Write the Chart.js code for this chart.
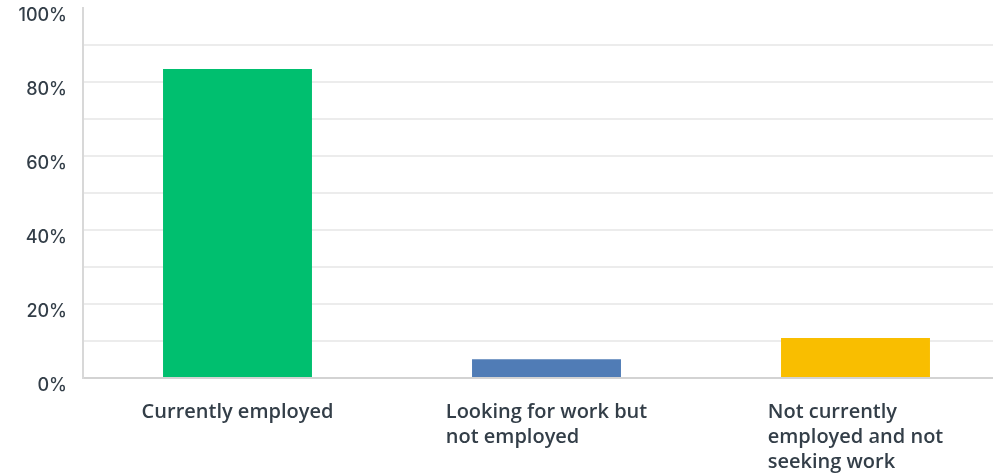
<!DOCTYPE html>
<html>
<head>
<meta charset="utf-8">
<script src="https://cdn.jsdelivr.net/npm/chart.js@4"></script>
<style>
    html, body { margin: 0; padding: 0; background: #fff; overflow: hidden; }
    #wrap { width: 1010px; height: 476px; position: relative; }
</style>
</head>
<body>
<div id="wrap"><canvas id="employmentChart"></canvas></div>
<script>
const categories = [
    ["Currently employed"],
    ["Looking for work but", "not employed"],
    ["Not currently", "employed and not", "seeking work"]
];
const percentages = [83.5, 5.1, 10.8];
const barColors = ["#00bf6f", "#507cb6", "#f9be00"];
const yTicks = [0, 20, 40, 60, 80, 100];

const TEXT_COLOR = "#333e48";

// x labels are drawn left-aligned per block, like the original
const blockLabels = {
    id: "blockLabels",
    afterDraw(chart) {
        const ctx = chart.ctx;
        const xScale = chart.scales.x;
        ctx.save();
        ctx.font = "600 20px 'Open Sans'";
        ctx.fillStyle = TEXT_COLOR;
        ctx.textAlign = "left";
        ctx.textBaseline = "middle";
        categories.forEach((lines, index) => {
            const center = xScale.getPixelForValue(index);
            const widest = Math.max(...lines.map(line => ctx.measureText(line).width));
            const left = center - widest / 2;
            lines.forEach((line, i) => {
                ctx.fillText(line, left, xScale.bottom + 34 + i * 25);
            });
        });
        ctx.restore();
    }
};

new Chart(document.getElementById("employmentChart"), {
    type: "bar",
    data: {
        labels: categories.map(lines => lines.join(" ")),
        datasets: [{
            data: percentages,
            backgroundColor: barColors,
            borderWidth: 0,
            barPercentage: 0.482,
            categoryPercentage: 1
        }]
    },
    options: {
        responsive: true,
        maintainAspectRatio: false,
        animation: false,
        layout: { padding: { top: 8, right: 0, bottom: 98, left: 0 } },
        plugins: {
            legend: { display: false },
            tooltip: { enabled: false }
        },
        scales: {
            x: {
                grid: { display: false, drawTicks: false },
                border: { color: "#d3d3d3", width: 2 },
                ticks: { display: false }
            },
            y: {
                min: 0,
                max: 100,
                afterFit(scale) {
                    scale.width = 83;
                    scale.paddingTop = 0;
                    scale.paddingBottom = 0;
                },
                grid: {
                    drawTicks: false,
                    color: ctx => (ctx.tick && ctx.tick.value > 0 && ctx.tick.value < 100) ? "#ececec" : "rgba(0,0,0,0)",
                    lineWidth: 2
                },
                border: { color: "#d8d8d8", width: 2 },
                afterBuildTicks(scale) {
                    const all = [];
                    for (let v = 0; v <= 100; v += 10) all.push({ value: v });
                    scale.ticks = all;
                },
                ticks: {
                    padding: 16,
                    labelOffset: 8,
                    color: TEXT_COLOR,
                    font: { family: "Inter", size: 18, weight: "500" },
                    callback: value => yTicks.includes(value) ? value + "%" : ""
                }
            }
        }
    },
    plugins: [blockLabels]
});
</script>
</body>
</html>
